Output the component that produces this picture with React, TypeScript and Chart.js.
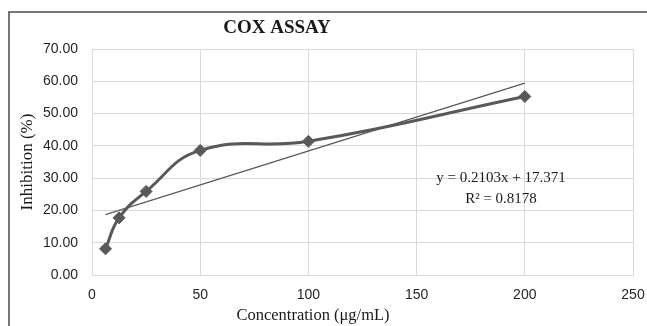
import React, { useEffect, useRef } from "react";
import { Chart, registerables } from "chart.js";

Chart.register(...registerables);

// ---- Data ----
const concentrations = [6.25, 12.5, 25, 50, 100, 200];
const inhibition = [8.1, 17.7, 25.9, 38.6, 41.4, 55.3];
const xTickValues = [0, 50, 100, 150, 200, 250];
const yTickValues = [0, 10, 20, 30, 40, 50, 60, 70];
const trendSlope = 0.2103;
const trendIntercept = 17.371;
const rSquared = 0.8178;
const trendRange = [6.25, 200];

const chartTitle = "COX ASSAY";
const xTitle = "Concentration (μg/mL)";
const yTitle = "Inhibition (%)";

const SERIF = "'Liberation Serif', 'Times New Roman', serif";
const SANS = "'Liberation Sans', Arial, sans-serif";

export default function App() {
  const ref = useRef<HTMLCanvasElement | null>(null);

  useEffect(() => {
    document.body.style.margin = "0";
    const canvas = ref.current;
    if (!canvas) return;

    const decor = {
      id: "decor",
      beforeDraw(chart: any) {
        const ctx = chart.ctx as CanvasRenderingContext2D;
        ctx.save();
        ctx.fillStyle = "#ffffff";
        ctx.fillRect(0, 0, chart.width, chart.height);
        ctx.strokeStyle = "#4a4a4a";
        ctx.lineWidth = 1.5;
        ctx.beginPath();
        ctx.moveTo(9, chart.height);
        ctx.lineTo(9, 12);
        ctx.lineTo(chart.width, 12);
        ctx.stroke();
        ctx.restore();
      },
      afterDraw(chart: any) {
        const ctx = chart.ctx as CanvasRenderingContext2D;
        const xs = chart.scales.x;
        const ys = chart.scales.y;
        ctx.save();
        ctx.fillStyle = "#1a1a1a";
        ctx.textAlign = "center";
        ctx.textBaseline = "middle";
        // chart title
        ctx.font = `bold 19px ${SERIF}`;
        ctx.fillText(chartTitle, 277, 28);
        // axis titles
        ctx.font = `16.5px ${SERIF}`;
        ctx.fillText(xTitle, 313, 316);
        ctx.save();
        ctx.translate(28, 162);
        ctx.rotate(-Math.PI / 2);
        ctx.font = `17px ${SERIF}`;
        ctx.fillText(yTitle, 0, 0);
        ctx.restore();
        // trendline equation
        ctx.font = `15px ${SERIF}`;
        const ex = xs.getPixelForValue(189);
        const sign = trendIntercept >= 0 ? "+" : "-";
        ctx.fillText(
          `y = ${trendSlope}x ${sign} ${Math.abs(trendIntercept)}`,
          ex,
          ys.getPixelForValue(30.1)
        );
        ctx.fillText(`R² = ${rSquared}`, ex, ys.getPixelForValue(23.6));
        ctx.restore();
      },
    };

    const chart = new Chart(canvas, {
      type: "scatter",
      data: {
        datasets: [
          {
            label: "Inhibition",
            data: concentrations.map((c, i) => ({ x: c, y: inhibition[i] })),
            showLine: true,
            borderColor: "#595959",
            backgroundColor: "#595959",
            borderWidth: 3,
            tension: 0.45,
            pointStyle: "rectRot",
            pointRadius: 6,
            pointBorderWidth: 1,
            pointBorderColor: "#595959",
            pointBackgroundColor: "#595959",
            order: 2,
          },
          {
            label: "Linear",
            data: trendRange.map((c) => ({ x: c, y: trendSlope * c + trendIntercept })),
            showLine: true,
            borderColor: "#595959",
            borderWidth: 1.2,
            pointRadius: 0,
            tension: 0,
            order: 1,
          },
        ],
      },
      options: {
        responsive: false,
        animation: false,
        devicePixelRatio: 1,
        layout: { padding: { left: 0, top: 49, right: 14, bottom: 0 } },
        plugins: {
          legend: { display: false },
          title: { display: false },
          tooltip: { enabled: false },
        },
        scales: {
          x: {
            type: "linear",
            min: xTickValues[0],
            max: xTickValues[xTickValues.length - 1],
            afterBuildTicks: (scale: any) => {
              scale.ticks = xTickValues.map((v) => ({ value: v }));
            },
            afterFit: (scale: any) => {
              scale.height = 51;
              scale.paddingLeft = 0;
              scale.paddingRight = 0;
            },
            grid: { color: "#d9d9d9", lineWidth: 1, drawTicks: false },
            border: { color: "#d9d9d9", width: 1 },
            ticks: {
              padding: 12,
              color: "#262626",
              font: { family: SANS, size: 14 },
              callback: (v: any) => String(v),
            },
          },
          y: {
            type: "linear",
            min: yTickValues[0],
            max: yTickValues[yTickValues.length - 1],
            afterBuildTicks: (scale: any) => {
              scale.ticks = yTickValues.map((v) => ({ value: v }));
            },
            afterFit: (scale: any) => {
              scale.width = 92;
              scale.paddingTop = 0;
              scale.paddingBottom = 0;
            },
            grid: { color: "#d9d9d9", lineWidth: 1, drawTicks: false },
            border: { color: "#d9d9d9", width: 1 },
            ticks: {
              padding: 14,
              color: "#262626",
              font: { family: SANS, size: 14 },
              callback: (v: any) => Number(v).toFixed(2),
            },
          },
        },
      },
      plugins: [decor],
    });

    return () => chart.destroy();
  }, []);

  return (
    <canvas
      ref={ref}
      width={647}
      height={326}
      style={{ display: "block", width: 647, height: 326 }}
    />
  );
}
